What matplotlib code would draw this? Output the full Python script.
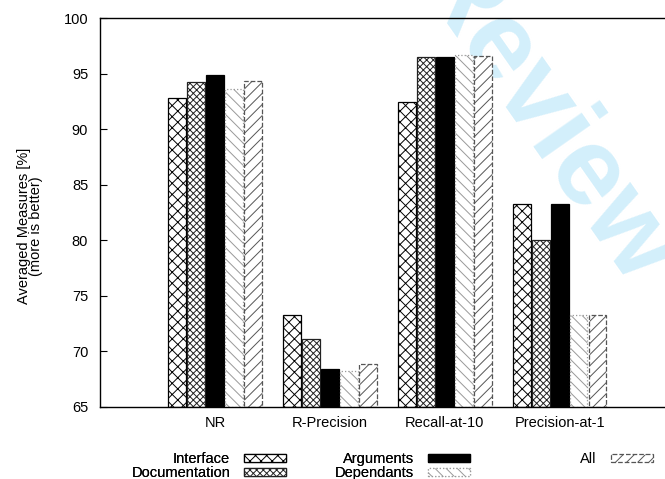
import matplotlib
matplotlib.use("Agg")
import matplotlib.pyplot as plt
import numpy as np

plt.rcParams["font.family"] = ["Liberation Sans", "DejaVu Sans"]
plt.rcParams["hatch.linewidth"] = 0.7

# data
metrics = ["NR", "R-Precision", "Recall-at-10", "Precision-at-1"]
series = ["Interface", "Documentation", "Arguments", "Dependants", "All"]
interface = [92.8, 73.3, 92.4, 83.3]
documentation = [94.2, 71.1, 96.5, 80.0]
arguments = [94.9, 68.4, 96.5, 83.3]
dependants = [93.6, 68.2, 96.7, 73.3]
all_feats = [94.3, 68.9, 96.6, 73.3]
yticks = [65, 70, 75, 80, 85, 90, 95, 100]

values = [interface, documentation, arguments, dependants, all_feats]
styles = [
    dict(hatch="xxx", edgecolor="black", linestyle="-"),
    dict(hatch="xxxxx", edgecolor="#222222", linestyle="-"),
    dict(hatch=None, edgecolor="black", facecolor="black", linestyle="-"),
    dict(hatch="\\\\\\", edgecolor="#999999", linestyle=":"),
    dict(hatch="///", edgecolor="#555555", linestyle="--"),
]
FS = 10.5

fig = plt.figure(figsize=(6.65, 4.79), dpi=100)
ax = fig.add_axes([100 / 665, 72 / 479, 574.5 / 665, 389 / 479])
ax.patch.set_facecolor("none")

# watermark behind the plot
fig.text(542 / 665, 1 - 120 / 479, "Review", fontsize=80,
         fontweight="bold", color="#d3effb", ha="center", va="center",
         rotation=-55, rotation_mode="anchor", zorder=-5)

x = np.arange(len(metrics))
w = 0.165
handles = []
for j, (name, vals, st) in enumerate(zip(series, values, styles)):
    st = dict(st)
    fc = st.pop("facecolor", "white")
    b = ax.bar(x + (j - 2) * w, np.array(vals) - 65, bottom=65, width=0.155,
               facecolor=fc, linewidth=0.9, label=name, zorder=2, **st)
    handles.append(b)

ax.set_xlim(-1, 4)
ax.set_ylim(65, 100)
ax.set_yticks(yticks)
ax.set_xticks(x)
ax.set_xticklabels(metrics)
ax.tick_params(axis="y", direction="in", length=5, pad=8.5, labelsize=FS)
ax.tick_params(axis="x", length=0, pad=6.5, labelsize=FS)
for s in ax.spines.values():
    s.set_linewidth(1.0)

fig.text(30 / 665, 1 - 226 / 479, "Averaged Measures [%]\n(more is better)",
         rotation=90, ha="center", va="center", multialignment="center",
         fontsize=FS, linespacing=0.85)

leg_kw = dict(markerfirst=False, frameon=False, fontsize=FS, loc="upper left",
              borderpad=0, handlelength=2.9, handleheight=0.5,
              handletextpad=0.95, labelspacing=0.0)
leg1 = fig.legend(handles[:4], series[:4], ncol=2, columnspacing=3.35,
                  bbox_to_anchor=(124 / 665, 1 - 445 / 479), **leg_kw)
fig.legend(handles[4:], series[4:],
           bbox_to_anchor=(573 / 665, 1 - 445 / 479), **leg_kw)
fig.add_artist(leg1)

fig.savefig("out.png", dpi=100)
